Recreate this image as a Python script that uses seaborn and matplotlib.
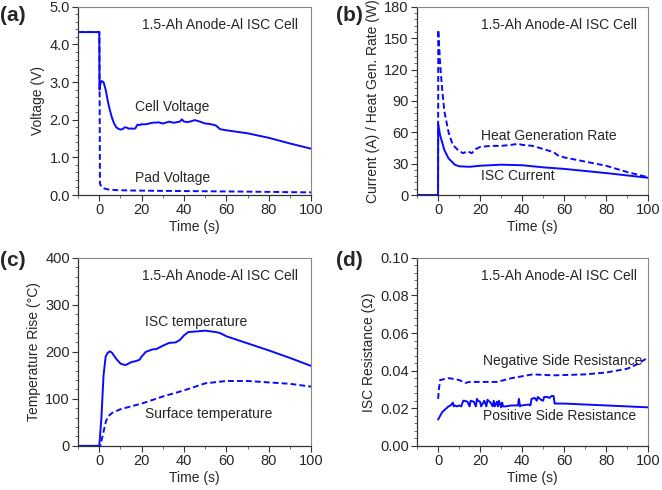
import numpy as np
import pandas as pd
import matplotlib
matplotlib.use("Agg")
import matplotlib.pyplot as plt
from matplotlib.ticker import AutoMinorLocator, MultipleLocator, FormatStrFormatter
import seaborn as sns

# (a) voltages
t_cell = [-10, 0, 0.1, 0.5, 1, 2, 3, 4, 5, 6, 7, 8, 9, 10, 11, 12, 13, 14, 15, 16, 17, 18,
          19, 20, 22, 25, 28, 30, 33, 35, 38, 39, 40, 42, 44, 45, 47, 50, 52, 55, 56, 57,
          60, 70, 80, 90, 100]
v_cell = [4.33, 4.33, 2.8, 2.95, 3.03, 3.0, 2.8, 2.5, 2.25, 2.05, 1.9, 1.8, 1.76, 1.74,
          1.75, 1.8, 1.79, 1.76, 1.77, 1.76, 1.77, 1.87, 1.86, 1.88, 1.88, 1.92, 1.93, 1.9,
          1.95, 1.92, 1.95, 2.01, 1.95, 1.94, 1.97, 1.99, 1.96, 1.9, 1.89, 1.85, 1.8, 1.75,
          1.72, 1.64, 1.52, 1.37, 1.23]
t_pad = [-10, 0, 0.1, 0.3, 1, 2, 4, 8, 15, 30, 50, 70, 100]
v_pad = [4.33, 4.33, 3.6, 0.3, 0.22, 0.18, 0.15, 0.13, 0.12, 0.11, 0.1, 0.09, 0.07]

# (b) current and heat generation rate
t_cur = [-10, 0, 0.05, 1, 2, 3, 5, 8, 10, 15, 20, 30, 40, 50, 60, 80, 100]
i_cur = [0, 0, 68, 57, 50, 43, 35, 29, 27.5, 27, 28, 29, 28.5, 26.5, 25, 21, 16.5]
t_heat = [-10, 0, 0.1, 1, 2, 3, 5, 7, 10, 12, 14, 16, 18, 20, 25, 30, 35, 38, 40, 45,
          50, 55, 57, 60, 70, 80, 90, 100]
q_heat = [0, 0, 158, 125, 100, 80, 60, 48, 42, 40, 42, 40, 44, 46, 47, 47, 48, 49, 48,
          47, 44, 41, 38, 36, 32, 28, 22, 17]

# (c) temperature rise
t_isc = [-10, 0, 1, 2, 3, 4, 5, 6, 8, 10, 12, 13, 15, 17, 19, 20, 22, 25, 27, 30, 33,
         36, 38, 40, 42, 45, 50, 55, 57, 60, 70, 80, 90, 100]
T_isc = [0, 0, 60, 150, 190, 198, 201, 198, 185, 175, 172, 173, 178, 180, 183, 190, 200,
         205, 206, 213, 219, 220, 225, 235, 242, 243, 245, 242, 240, 233, 218, 203, 187, 170]
t_surf = [-10, 0.5, 1, 2, 3, 4, 6, 10, 20, 30, 40, 50, 60, 70, 80, 90, 100]
T_surf = [0, 0, 10, 30, 50, 62, 70, 78, 90, 105, 118, 133, 138, 138, 135, 132, 126]

# (d) ISC resistance
t_pos = [0, 1, 2, 3, 4, 5, 6, 7, 7.5, 8, 9, 10, 11, 12, 12.5, 14, 15, 15.5, 17, 18,
         18.5, 19, 20, 20.5, 22, 23, 23.5, 25, 26, 26.5, 27, 28, 28.5, 29, 30, 30.5, 31,
         32, 35, 38, 38.5, 39, 39.5, 40, 43, 44, 44.5, 46, 47, 47.5, 49, 50, 50.5, 52,
         53, 54, 55, 55.5, 56, 60, 70, 80, 90, 100]
r_pos = [0.014, 0.016, 0.018, 0.019, 0.020, 0.021, 0.0215, 0.023, 0.021, 0.0215, 0.021,
         0.0215, 0.021, 0.024, 0.024, 0.0235, 0.021, 0.024, 0.0235, 0.021, 0.025, 0.024,
         0.0235, 0.021, 0.024, 0.021, 0.0245, 0.023, 0.021, 0.024, 0.021, 0.0235, 0.021,
         0.024, 0.0205, 0.023, 0.021, 0.021, 0.0215, 0.0215, 0.025, 0.021, 0.0215, 0.0215,
         0.022, 0.0215, 0.025, 0.0255, 0.024, 0.026, 0.0245, 0.024, 0.026, 0.026, 0.0255,
         0.0265, 0.0265, 0.0225, 0.0225, 0.0225, 0.022, 0.0215, 0.021, 0.0205]
t_neg = [0, 0.5, 1, 3, 5, 8, 10, 13, 15, 20, 28, 35, 45, 55, 70, 80, 90, 95, 100]
r_neg = [0.025, 0.031, 0.035, 0.0355, 0.036, 0.0355, 0.035, 0.0335, 0.034, 0.034, 0.034,
         0.036, 0.038, 0.0375, 0.038, 0.039, 0.041, 0.0435, 0.047]

title_txt = "1.5-Ah Anode-Al ISC Cell"
blue = "#0a0aff"

sns.set_style("ticks")
plt.rcParams["font.family"] = ["Liberation Sans", "DejaVu Sans"]
plt.rcParams["font.size"] = 10

fig = plt.figure(figsize=(6.62, 4.9), dpi=100)
left_a, left_b = 0.118, 0.630
bot_top, bot_low = 0.602, 0.090
w_a, w_b, h = 0.352, 0.349, 0.384
ax_a = fig.add_axes([left_a, bot_top, w_a, h])
ax_b = fig.add_axes([left_b, bot_top, w_b, h])
ax_c = fig.add_axes([left_a, bot_low, w_a, h])
ax_d = fig.add_axes([left_b, bot_low, w_b, h])


def line(ax, t, y, dashed=False):
    sns.lineplot(x=t, y=y, ax=ax, color=blue, lw=1.4, sort=False, estimator=None,
                 linestyle=(0, (3, 1.6)) if dashed else "-")


def style(ax, ylim, ystep, fmt, ylabel):
    ax.set_xlim(-10, 100)
    ax.set_ylim(*ylim)
    ax.xaxis.set_major_locator(MultipleLocator(20))
    ax.xaxis.set_minor_locator(AutoMinorLocator(2))
    ax.yaxis.set_major_locator(MultipleLocator(ystep))
    ax.yaxis.set_minor_locator(AutoMinorLocator(5))
    if fmt:
        ax.yaxis.set_major_formatter(FormatStrFormatter(fmt))
    ax.tick_params(which="major", length=4, width=0.8, color="#333333",
                   labelsize=10.5, pad=2)
    ax.tick_params(which="minor", length=2, width=0.6, color="#555555")
    for s in ["left", "bottom"]:
        ax.spines[s].set_color("#333333")
        ax.spines[s].set_linewidth(0.9)
    for s in ["top", "right"]:
        ax.spines[s].set_color("#888888")
        ax.spines[s].set_linewidth(0.8)
    ax.set_xlabel("Time (s)", fontsize=10, labelpad=2)
    ax.set_ylabel(ylabel, fontsize=10, labelpad=3)
    ax.text(0.275, 0.905, title_txt, transform=ax.transAxes, fontsize=10,
            va="center", ha="left")


# (a)
line(ax_a, t_pad, v_pad, dashed=True)
line(ax_a, t_cell, v_cell)
style(ax_a, (0, 5), 1, "%.1f", "Voltage (V)")
ax_a.text(17, 2.34, "Cell Voltage", fontsize=10, va="center")
ax_a.text(17, 0.44, "Pad Voltage", fontsize=10, va="center")

# (b)
line(ax_b, t_heat, q_heat, dashed=True)
line(ax_b, t_cur, i_cur)
style(ax_b, (0, 180), 30, None, "Current (A) / Heat Gen. Rate (W)")
ax_b.text(20.4, 56.6, "Heat Generation Rate", fontsize=10, va="center")
ax_b.text(20.4, 18.2, "ISC Current", fontsize=10, va="center")

# (c)
line(ax_c, t_surf, T_surf, dashed=True)
line(ax_c, t_isc, T_isc)
style(ax_c, (0, 400), 100, None, "Temperature Rise (°C)")
ax_c.text(21.5, 264, "ISC temperature", fontsize=10, va="center")
ax_c.text(21.5, 67, "Surface temperature", fontsize=10, va="center")

# (d)
line(ax_d, t_neg, r_neg, dashed=True)
line(ax_d, t_pos, r_pos)
style(ax_d, (0, 0.1), 0.02, "%.2f", "ISC Resistance (Ω)")
ax_d.text(21.2, 0.045, "Negative Side Resistance", fontsize=10, va="center")
ax_d.text(21.2, 0.0157, "Positive Side Resistance", fontsize=10, va="center")

for lab, x, y in [("(a)", 0.0, 0.969), ("(b)", 0.507, 0.969),
                  ("(c)", 0.0, 0.469), ("(d)", 0.507, 0.469)]:
    fig.text(x, y, lab, fontsize=15, fontweight="bold", va="center", ha="left")

fig.savefig("out.png", dpi=100)
